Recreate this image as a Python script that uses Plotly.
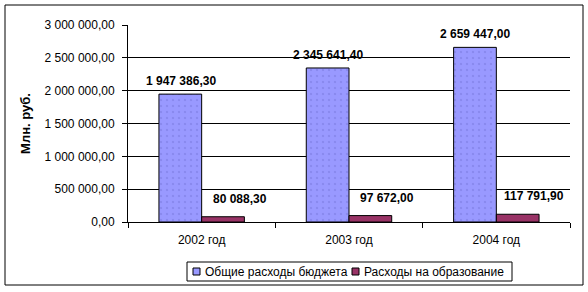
import plotly.graph_objects as go

categories = ["2002 год", "2003 год", "2004 год"]
total_budget = [1947386.30, 2345641.40, 2659447.00]
education = [80088.30, 97672.00, 117791.90]
series_names = ["Общие расходы бюджета", "Расходы на образование"]
series_colors = ["#9999FF", "#993366"]
tick_vals = [0, 500000, 1000000, 1500000, 2000000, 2500000, 3000000]


def fmt(v):
    s = f"{v:,.2f}"
    return s.replace(",", " ").replace(".", ",")


tick_text = [fmt(v) for v in tick_vals]

W, H = 588, 292
L, R, T, B = 128, 18, 25, 70
pw, ph = W - L - R, H - T - B
FONT = "Liberation Sans, Arial"


def px_x(x):
    return (x - L) / pw


def px_y(y):
    return (H - B - y) / ph


fig = go.Figure()
fig.add_trace(go.Bar(
    x=categories, y=total_budget, name=series_names[0],
    marker=dict(color=series_colors[0], line=dict(color="black", width=1),
                pattern=dict(shape=".", fgcolor="#7777dd", size=6, solidity=0.12)),
))
fig.add_trace(go.Bar(
    x=categories, y=education, name=series_names[1],
    marker=dict(color=series_colors[1], line=dict(color="black", width=1)),
))

annotations = []
for c, v in zip(categories, total_budget):
    annotations.append(dict(x=c, y=v, xref="x", yref="y", text="<b>" + fmt(v) + "</b>",
                            showarrow=False, xanchor="center", yanchor="bottom",
                            xshift=-21, yshift=4,
                            font=dict(family=FONT, size=12, color="black")))
for c, v in zip(categories, education):
    annotations.append(dict(x=c, y=v, xref="x", yref="y", text="<b>" + fmt(v) + "</b>",
                            showarrow=False, xanchor="center", yanchor="bottom",
                            xshift=38, yshift=9,
                            font=dict(family=FONT, size=12, color="black")))

# legend (manual, Excel style)
leg_items = [(193, 203), (352, 362)]
shapes = [
    dict(type="rect", xref="paper", yref="paper",
         x0=px_x(5), x1=px_x(583), y0=px_y(285), y1=px_y(5),
         line=dict(color="black", width=1), fillcolor="rgba(0,0,0,0)", layer="below"),
    dict(type="rect", xref="paper", yref="paper",
         x0=px_x(187), x1=px_x(512), y0=px_y(281), y1=px_y(262),
         line=dict(color="black", width=1), fillcolor="white", layer="above"),
]
for (sx, tx), name, col in zip(leg_items, series_names, series_colors):
    shapes.append(dict(type="rect", xref="paper", yref="paper",
                       x0=px_x(sx), x1=px_x(sx + 7), y0=px_y(275), y1=px_y(268),
                       line=dict(color="black", width=1), fillcolor=col, layer="above"))
    annotations.append(dict(x=px_x(tx), y=px_y(271.5), xref="paper", yref="paper",
                            text=name, showarrow=False, xanchor="left", yanchor="middle",
                            font=dict(family=FONT, size=12, color="black")))

fig.update_layout(
    width=W, height=H,
    margin=dict(l=L, r=R, t=T, b=B, autoexpand=False),
    paper_bgcolor="white", plot_bgcolor="white",
    barmode="group", bargap=0.42, bargroupgap=0,
    font=dict(family=FONT, size=11, color="black"),
    showlegend=False,
    xaxis=dict(showline=True, linecolor="black", linewidth=1, ticks="outside",
               tickcolor="black", ticklen=5, tickson="boundaries",
               ticklabelstandoff=7, tickfont=dict(size=12), showgrid=False),
    yaxis=dict(range=[0, 3000000], tickvals=tick_vals, ticktext=tick_text,
               showline=True, linecolor="black", linewidth=1, ticks="outside",
               tickcolor="black", ticklen=5, ticklabelstandoff=5,
               showgrid=True, gridcolor="black",
               gridwidth=1, zeroline=False, tickfont=dict(size=12),
               title=dict(text="<b>Млн. руб.</b>", font=dict(size=13), standoff=10)),
    shapes=shapes,
    annotations=annotations,
)

fig.write_html("out.html")
